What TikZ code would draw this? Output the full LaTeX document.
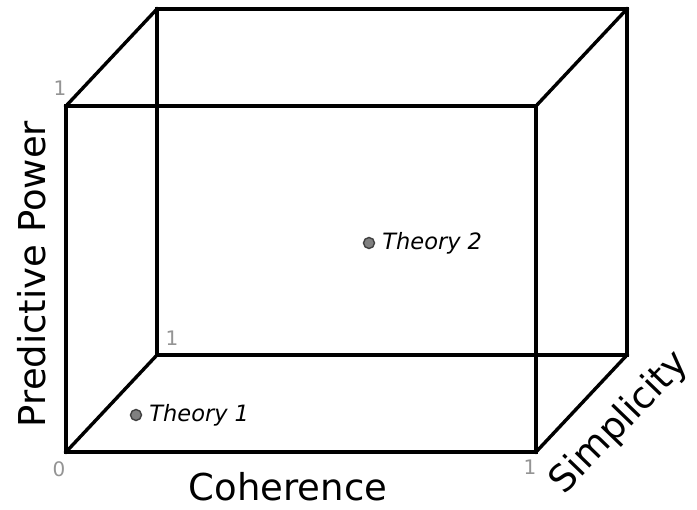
\documentclass[tikz,border=0pt]{standalone}
\usepackage{fontspec}
\setmainfont{DejaVu Sans}
\usetikzlibrary{positioning}

\begin{document}
\begin{tikzpicture}[
  x=1pt, y=-1pt,
  edge/.style={line width=3.4pt, line cap=rect},
  tick/.style={text=black!42, font=\fontsize{20}{20}\selectfont, inner sep=0pt},
  axis/.style={font=\fontsize{37}{37}\selectfont, inner sep=0pt},
  theory/.style={circle, draw=black!75, fill=black!50, line width=1.4pt,
    minimum size=11pt, inner sep=0pt},
  tlabel/.style={font=\fontsize{22.5}{22.5}\selectfont\itshape, inner sep=0pt}
]
\useasboundingbox (0,0) rectangle (697,510);

% corners of the box
\coordinate (o)   at (66,452);
\coordinate (x1)  at (536,452);
\coordinate (y1)  at (66,106);
\coordinate (xy)  at (536,106);
\coordinate (z1)  at (157,355);
\coordinate (xz)  at (627,355);
\coordinate (yz)  at (157,9);
\coordinate (xyz) at (627,9);

\draw[edge] (o) -- (x1) -- (xy) -- (y1) -- cycle;
\draw[edge] (z1) -- (xz) -- (xyz) -- (yz) -- cycle;
\draw[edge] (o) -- (z1);
\draw[edge] (x1) -- (xz);
\draw[edge] (y1) -- (yz);
\draw[edge] (xy) -- (xyz);

% ticks
\node[tick] (t0) at (59,469) {0};
\node[tick] (tx) at (530,467) {1};
\node[tick] (ty) at (60,88) {1};
\node[tick] (tz) at (172,338) {1};

% axis names
\node[axis] (coh) at (288,487) {Coherence};
\node[axis, rotate=90] (pred) at (32,274) {Predictive Power};
\node[axis, rotate=46] (simp) at (620,423) {Simplicity};

% theories
\node[theory] (th1) at (136,415) {};
\node[tlabel, right=7pt of th1] (th1l) {Theory 1};
\node[theory] (th2) at (369,243) {};
\node[tlabel, right=7pt of th2] (th2l) {Theory 2};
\end{tikzpicture}
\end{document}
